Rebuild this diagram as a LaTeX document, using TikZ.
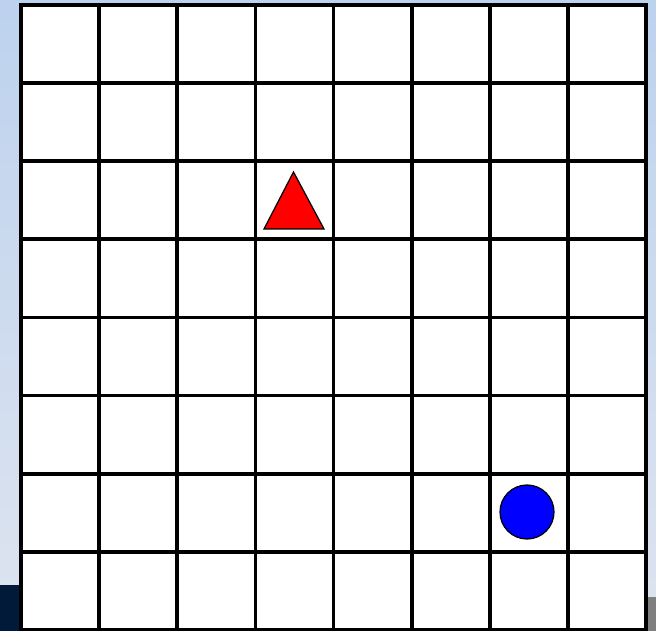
\documentclass[tikz,border=0pt]{standalone}
\usepackage{xcolor}
\usepackage{tikz}
\definecolor{SlideTop}{HTML}{BDD2EE}
\definecolor{SlideLow}{HTML}{DEE4EF}
\definecolor{SlideNavy}{HTML}{021A3A}
\definecolor{SlideGrey}{HTML}{7F7F7F}
\definecolor{PieceRed}{HTML}{FF0000}
\definecolor{PieceBlue}{HTML}{0000FF}
\tikzset{
  board line/.style={line width=0.075cm, black, line cap=rect},
  board piece/.style={draw=black, line width=0.025cm}
}

\begin{document}
\begin{tikzpicture}[x=0.02cm, y=-0.02cm]
  \useasboundingbox (0,0) rectangle (656,631);
  % slide background around the board
  \shade[top color=SlideTop, bottom color=SlideLow] (0,0) rectangle (656,631);
  \fill[SlideNavy] (0,585) rectangle (21,631);
  \fill[SlideGrey] (648,597) rectangle (656,631);
  \fill[white] (21,5) rectangle (646,630);

  % 8x8 board
  \foreach \i in {0,...,8} {
    \draw[board line] ({21+\i*78.125},5) -- ({21+\i*78.125},630);
    \draw[board line] (21,{5+\i*78.125}) -- (646,{5+\i*78.125});
  }

  % pieces
  \filldraw[board piece, fill=PieceRed] (293.5,172) -- (324,229) -- (264,229) -- cycle;
  \filldraw[board piece, fill=PieceBlue] (527,512) circle (27);
\end{tikzpicture}
\end{document}
